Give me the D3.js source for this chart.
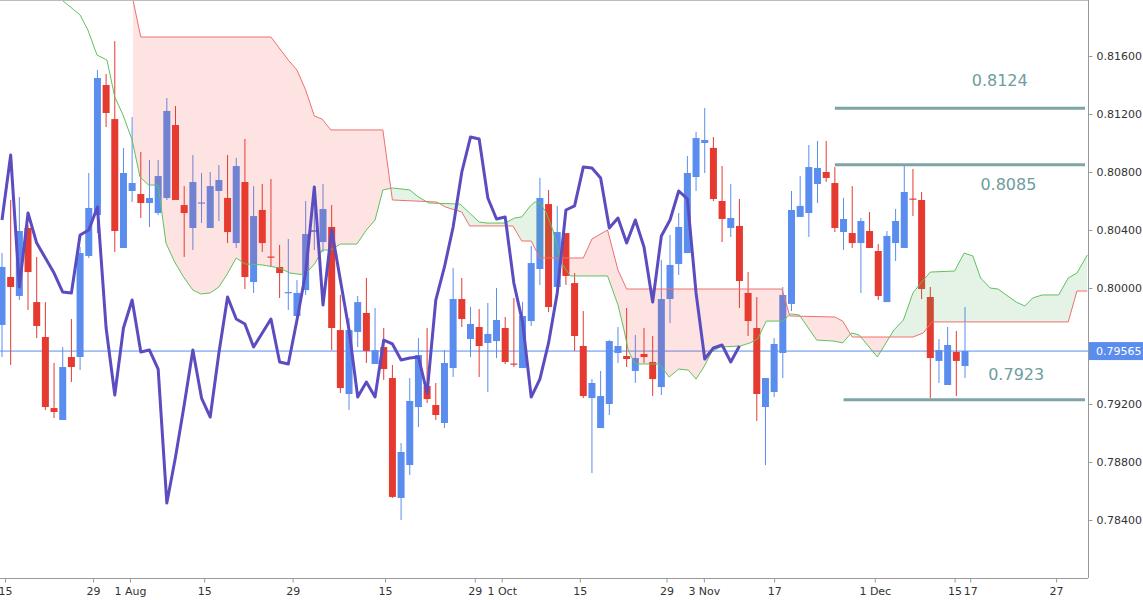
<!DOCTYPE html>
<html>
<head>
<meta charset="utf-8">
<script src="https://cdn.jsdelivr.net/npm/d3@7"></script>
<style>
  body { margin: 0; background: #fff; }
  svg text { font-family: "DejaVu Sans", sans-serif; }
</style>
</head>
<body>
<div id="chart"></div>
<script>
const W = 1143, H = 600
const PLOT = { LEFT: 0, RIGHT: 1088, TOP: 0, BOTTOM: 578 }

// daily candles [open, high, low, close]
const candles = [
  [0.79745,0.80241,0.79524,0.80145],[0.80076,0.80607,0.79469,0.80007],[0.79945,0.80628,0.79917,0.80393],
  [0.80414,0.80435,0.79848,0.80110],[0.79903,0.80214,0.79655,0.79738],[0.79662,0.79903,0.79159,0.79179],
  [0.79172,0.79483,0.79103,0.79145],[0.79090,0.79593,0.79090,0.79455],[0.79524,0.79786,0.79352,0.79455],
  [0.79524,0.80283,0.79434,0.80241],[0.80221,0.80793,0.80207,0.80552],[0.80503,0.81503,0.80379,0.81448],
  [0.81400,0.81476,0.81110,0.81207],[0.81165,0.81703,0.80248,0.80393],[0.80276,0.80966,0.80276,0.80793],
  [0.80669,0.81179,0.80593,0.80724],[0.80648,0.80938,0.80483,0.80586],[0.80586,0.80883,0.80421,0.80621],
  [0.80517,0.80883,0.80503,0.80772],[0.80621,0.81310,0.80607,0.81221],[0.81124,0.81255,0.80607,0.80607],
  [0.80572,0.80703,0.80214,0.80517],[0.80414,0.80917,0.80262,0.80731],[0.80586,0.80793,0.80448,0.80590],
  [0.80414,0.80800,0.80414,0.80703],[0.80669,0.80848,0.80462,0.80745],[0.80621,0.80917,0.80310,0.80386],
  [0.80310,0.80897,0.80276,0.80841],[0.80731,0.81028,0.79993,0.80076],[0.80041,0.80703,0.79966,0.80496],
  [0.80538,0.80717,0.80248,0.80310],[0.80217,0.80752,0.80145,0.80214],[0.80145,0.80297,0.79931,0.80103],
  [0.79969,0.80338,0.79848,0.79972],[0.79807,0.80055,0.79807,0.79966],[0.79986,0.80600,0.79952,0.80372],
  [0.80386,0.80593,0.80262,0.80400],[0.80317,0.80717,0.80248,0.80545],[0.80421,0.80572,0.79572,0.79724],
  [0.79710,0.79952,0.79276,0.79310],[0.79269,0.79793,0.79159,0.79710],[0.79697,0.79945,0.79593,0.79903],
  [0.79828,0.80069,0.79483,0.79566],[0.79476,0.79862,0.79476,0.79572],[0.79593,0.79724,0.79366,0.79441],
  [0.79379,0.79469,0.78552,0.78559],[0.78552,0.78931,0.78400,0.78869],[0.78779,0.79379,0.78710,0.79221],
  [0.79179,0.79655,0.79041,0.79538],[0.79324,0.79724,0.79207,0.79234],[0.79193,0.79345,0.79090,0.79124],
  [0.79069,0.79572,0.79034,0.79483],[0.79448,0.80138,0.79386,0.79924],[0.79924,0.80069,0.79731,0.79786],
  [0.79648,0.79869,0.79524,0.79752],[0.79731,0.79855,0.79386,0.79600],[0.79621,0.79897,0.79283,0.79683],
  [0.79634,0.80000,0.79517,0.79779],[0.79724,0.79800,0.79476,0.79490],[0.79479,0.79931,0.79455,0.79476],
  [0.79448,0.79903,0.79448,0.79807],[0.79772,0.80290,0.79738,0.80172],[0.80131,0.80759,0.80021,0.80621],
  [0.80579,0.80676,0.79834,0.79869],[0.80007,0.80566,0.80007,0.80386],[0.80379,0.80379,0.80021,0.80083],
  [0.80034,0.80103,0.79566,0.79669],[0.79600,0.79841,0.79241,0.79255],[0.79241,0.79372,0.78724,0.79345],
  [0.79034,0.79428,0.79034,0.79255],[0.79200,0.79641,0.79124,0.79634],[0.79552,0.79731,0.79483,0.79600],
  [0.79531,0.79862,0.79455,0.79510],[0.79428,0.79676,0.79345,0.79517],[0.79545,0.79724,0.79483,0.79524],
  [0.79490,0.79669,0.79255,0.79372],[0.79317,0.80193,0.79262,0.79924],[0.79924,0.80366,0.79759,0.80159],
  [0.80166,0.80517,0.80090,0.80421],[0.80241,0.80910,0.80241,0.80793],[0.80765,0.81076,0.80669,0.81034],
  [0.81000,0.81241,0.80793,0.81021],[0.80966,0.81041,0.80600,0.80614],[0.80600,0.80841,0.80317,0.80476],
  [0.80414,0.80717,0.80352,0.80483],[0.80428,0.80614,0.79862,0.80048],[0.79966,0.80110,0.79669,0.79772],
  [0.79724,0.79938,0.79083,0.79269],[0.79179,0.79379,0.78779,0.79379],[0.79283,0.79655,0.79248,0.79614],
  [0.79552,0.80007,0.79379,0.79952],[0.79890,0.80669,0.79841,0.80538],[0.80490,0.80772,0.80490,0.80566],
  [0.80517,0.80986,0.80352,0.80834],[0.80717,0.81014,0.80586,0.80828],[0.80800,0.81014,0.80731,0.80759],
  [0.80724,0.80834,0.80386,0.80414],[0.80386,0.80621,0.80262,0.80476],[0.80379,0.80703,0.80276,0.80310],
  [0.80310,0.80483,0.79966,0.80462],[0.80393,0.80524,0.80276,0.80276],[0.80255,0.80303,0.79917,0.79945],
  [0.79903,0.80393,0.79903,0.80359],[0.80310,0.80545,0.80186,0.80462],[0.80276,0.80841,0.80276,0.80662],
  [0.80617,0.80821,0.80496,0.80614],[0.80607,0.80662,0.79924,0.79993],[0.79938,0.80007,0.79241,0.79517],
  [0.79497,0.79648,0.79345,0.79572],[0.79331,0.79731,0.79331,0.79607],[0.79559,0.79703,0.79255,0.79497],
  [0.79462,0.79869,0.79379,0.79565]
]

// lagging line, one value per candle from the first
const lagging = [
  0.80469,0.80917,0.80007,0.80517,0.80310,0.80207,0.80103,0.79972,0.79966,0.80365,
  0.80400,0.80559,0.79724,0.79262,0.79724,0.79917,0.79559,0.79572,0.79441,0.78517,
  0.78834,0.79193,0.79572,0.79241,0.79110,0.79552,0.79938,0.79786,0.79752,0.79593,
  0.79690,0.79786,0.79490,0.79476,0.79779,0.80103,0.80697,0.79883,0.80400,0.80055,
  0.79710,0.79248,0.79352,0.79248,0.79641,0.79614,0.79503,0.79517,0.79524,0.79276,
  0.79917,0.80145,0.80421,0.80800,0.81041,0.81028,0.80621,0.80476,0.80490,0.80034,
  0.79765,0.79248,0.79372,0.79621,0.79966,0.80538,0.80566,0.80834,0.80828,0.80759,
  0.80414,0.80483,0.80310,0.80469,0.80283,0.79903,0.80359,0.80469,0.80669,0.80614,
  0.79966,0.79510,0.79586,0.79607,0.79490,0.79600
]

// cloud edges as [candle index, price] turning points
const spanA = [
  [6.9,0.81986],[9.0,0.81883],[9.9,0.81779],[10.95,0.81607],[12.1,0.81572],[13.0,0.81317],[13.95,0.81193],
  [15.0,0.81021],[15.9,0.80766],[16.9,0.80710],[18.0,0.80710],[18.9,0.80310],[19.9,0.80179],[21.0,0.80069],
  [22.0,0.79986],[22.9,0.79959],[24.0,0.79966],[25.0,0.80007],[25.9,0.80090],[27.0,0.80207],[28.0,0.80166],
  [30.0,0.80159],[32.0,0.80138],[33.2,0.80103],[34.9,0.80090],[36.1,0.80172],[36.9,0.80262],[37.9,0.80262],
  [39.0,0.80303],[40.9,0.80303],[42.0,0.80400],[43.0,0.80469],[43.9,0.80676],[45.0,0.80690],[47.0,0.80676],
  [48.0,0.80628],[49.2,0.80586],[52.8,0.80579],[53.9,0.80517],[55.0,0.80455],[55.9,0.80448],[58.0,0.80448],
  [59.1,0.80483],[59.9,0.80490],[60.9,0.80566],[61.4,0.80593],[62.0,0.80586],[62.7,0.80524],[63.5,0.80400],
  [64.5,0.80172],[65.5,0.80083],[69.8,0.80083],[71.0,0.79883],[71.7,0.79710],[72.2,0.79566],[73.0,0.79476],
  [75.8,0.79476],[76.9,0.79386],[78.0,0.79441],[79.1,0.79434],[80.0,0.79372],[80.9,0.79455],[81.8,0.79559],
  [82.8,0.79593],[85.1,0.79600],[86.2,0.79621],[87.1,0.79648],[88.1,0.79772],[90.0,0.79772],[90.9,0.79821],
  [91.9,0.79814],[93.9,0.79641],[95.9,0.79634],[96.9,0.79621],[97.9,0.79690],[98.8,0.79676],[100.9,0.79524],
  [102.8,0.79710],[103.9,0.79779],[105.0,0.79966],[106.0,0.80041],[107.0,0.80110],[109.8,0.80117],
  [110.9,0.80241],[111.9,0.80221],[112.8,0.80069],[113.9,0.80000],[114.8,0.79993],[116.9,0.79903],
  [117.9,0.79876],[118.8,0.79931],[119.9,0.79952],[121.8,0.79952],[122.9,0.80069],[123.9,0.80103],[125.1,0.80228]
]
const spanB = [
  [15.1,0.81986],[16.0,0.81731],[31.0,0.81731],[33.0,0.81572],[34.0,0.81503],[35.0,0.81366],[36.0,0.81186],
  [36.9,0.81165],[37.9,0.81090],[43.9,0.81090],[45.0,0.80607],[50.1,0.80593],[51.1,0.80559],[53.0,0.80524],
  [53.9,0.80428],[58.9,0.80428],[59.9,0.80324],[61.0,0.80324],[62.0,0.80207],[67.0,0.80207],[68.0,0.80338],
  [69.8,0.80400],[71.0,0.80124],[72.0,0.79993],[89.9,0.79993],[90.8,0.79807],[96.0,0.79800],[96.9,0.79772],
  [98.0,0.79662],[105.0,0.79662],[106.2,0.79690],[107.2,0.79766],[122.9,0.79766],[123.9,0.79979],[125.1,0.79979]
]

const priceTicks = [0.784, 0.788, 0.792, 0.800, 0.804, 0.808, 0.812, 0.816]
const dateTicks = [0.35, 10.5, 14.75, 23.3, 33.5, 44.15, 54.5, 57.6, 66.6, 76.6, 80.9, 89, 100.6, 109.8, 111.6, 121.5]
const dateLabels = ['15','29','1 Aug','15','29','15','29','1 Oct','15','29','3 Nov','17','1 Dec','15','17','27']

const levels = [0.8124, 0.8085, 0.7923]
const levelStart = [96, 96, 97]
const levelText = ['0.8124', '0.8085', '0.7923']
const levelTextIdx = [115.0, 116.0, 116.9]
const levelTextPrice = [0.81393, 0.80676, 0.79366]
const lastPrice = 0.79565

const up = '#5b8def', down = '#e53a30'

const svg = d3.select('#chart').append('svg').attr('width', W).attr('height', H)

const x = d3.scaleLinear().domain([0, candles.length - 1]).range([2, 965])
const y = d3.scaleLinear().domain([0.784, 0.816]).range([520, 56])

svg.append('clipPath').attr('id', 'plot')
  .append('rect').attr('x', PLOT.LEFT).attr('y', PLOT.TOP)
  .attr('width', PLOT.RIGHT - PLOT.LEFT).attr('height', PLOT.BOTTOM - PLOT.TOP)

const g = svg.append('g').attr('clip-path', 'url(#plot)')

// last price line
g.append('line').attr('x1', 0).attr('x2', PLOT.RIGHT)
  .attr('y1', y(lastPrice)).attr('y2', y(lastPrice))
  .attr('stroke', up).attr('stroke-width', 1)

// candles
const cg = g.append('g')
candles.forEach((d, i) => {
  const [o, h, l, c] = d
  const col = c >= o ? up : down
  cg.append('line').attr('x1', x(i)).attr('x2', x(i))
    .attr('y1', y(h)).attr('y2', y(l)).attr('stroke', col).attr('stroke-width', 1)
  const top = y(Math.max(o, c)), bot = y(Math.min(o, c))
  cg.append('rect').attr('x', x(i) - 3.5).attr('width', 7)
    .attr('y', top).attr('height', Math.max(1.2, bot - top)).attr('fill', col)
})

// cloud
const interp = pts => t => {
  if (t <= pts[0][0]) return pts[0][1]
  for (let k = 1; k < pts.length; k++) {
    if (t <= pts[k][0]) {
      const [x0, y0] = pts[k - 1], [x1, y1] = pts[k]
      return y0 + (y1 - y0) * (t - x0) / (x1 - x0)
    }
  }
  return pts[pts.length - 1][1]
}
const fA = interp(spanA), fB = interp(spanB)
const start = Math.max(spanA[0][0], spanB[0][0]), end = 125.1
const grid = d3.range(start, end, 0.1).concat([end])
const between = d3.area().x(t => x(t)).y0(t => y(fA(t))).y1(t => y(fB(t)))

svg.append('clipPath').attr('id', 'aboveB')
  .append('path').attr('d', d3.area().x(t => x(t)).y0(0).y1(t => y(fB(t)))(grid))
svg.append('clipPath').attr('id', 'belowB')
  .append('path').attr('d', d3.area().x(t => x(t)).y0(H).y1(t => y(fB(t)))(grid))

g.append('g').attr('clip-path', 'url(#aboveB)').append('path')
  .attr('d', between(grid)).attr('fill', 'rgba(76,175,80,0.15)')
g.append('g').attr('clip-path', 'url(#belowB)').append('path')
  .attr('d', between(grid)).attr('fill', 'rgba(244,67,54,0.15)')

const edge = d3.line().x(d => x(d[0])).y(d => y(d[1]))
g.append('path').attr('d', edge(spanA)).attr('fill', 'none').attr('stroke', '#5fc25f').attr('stroke-width', 1)
g.append('path').attr('d', edge(spanB)).attr('fill', 'none').attr('stroke', '#f07070').attr('stroke-width', 1)

// lagging line
g.append('path')
  .attr('d', d3.line().x((d, i) => x(i)).y(d => y(d))(lagging))
  .attr('fill', 'none').attr('stroke', '#5b4cc0').attr('stroke-width', 3)
  .attr('stroke-linejoin', 'round')

// levels
levels.forEach((v, i) => {
  g.append('line').attr('x1', x(levelStart[i])).attr('x2', PLOT.RIGHT - 3)
    .attr('y1', y(v)).attr('y2', y(v)).attr('stroke', '#7fa4a6').attr('stroke-width', 3)
  g.append('text').attr('x', x(levelTextIdx[i])).attr('y', y(levelTextPrice[i]))
    .attr('text-anchor', 'middle').attr('font-size', 16).attr('fill', '#6e9c9f')
    .text(levelText[i])
})

// frame
svg.append('line').attr('x1', 0).attr('x2', PLOT.RIGHT).attr('y1', 0.5).attr('y2', 0.5).attr('stroke', '#bbb')
svg.append('line').attr('x1', PLOT.RIGHT + 0.5).attr('x2', PLOT.RIGHT + 0.5).attr('y1', 0).attr('y2', PLOT.BOTTOM).attr('stroke', '#999')
svg.append('line').attr('x1', 0).attr('x2', PLOT.RIGHT).attr('y1', PLOT.BOTTOM + 0.5).attr('y2', PLOT.BOTTOM + 0.5).attr('stroke', '#999')

// price axis
const yAxis = svg.append('g').attr('transform', `translate(${PLOT.RIGHT + 0.5},0)`)
  .call(d3.axisRight(y).tickValues(priceTicks).tickFormat(d3.format('.5f')).tickSize(4).tickSizeOuter(0))
yAxis.select('.domain').remove()
yAxis.selectAll('line').attr('stroke', '#999')
yAxis.selectAll('text').attr('font-size', 11).attr('fill', '#333').attr('x', 8)

// date axis
const xAxis = svg.append('g').attr('transform', `translate(0,${PLOT.BOTTOM + 0.5})`)
  .call(d3.axisBottom(x).tickValues(dateTicks).tickFormat((d, i) => dateLabels[i]).tickSize(4).tickSizeOuter(0))
xAxis.select('.domain').remove()
xAxis.selectAll('line').attr('stroke', '#999')
xAxis.selectAll('text').attr('font-size', 11).attr('fill', '#333').attr('dy', '0.9em')
  .attr('font-family', '"DejaVu Sans Condensed", sans-serif')

// last price tag
const tag = svg.append('g').attr('transform', `translate(${PLOT.RIGHT + 1},${y(lastPrice)})`)
tag.append('rect').attr('x', 0).attr('y', -9).attr('width', W - PLOT.RIGHT).attr('height', 18).attr('fill', up)
tag.append('text').attr('x', 7).attr('y', 4).attr('font-size', 11).attr('fill', '#fff').text(d3.format('.5f')(lastPrice))
</script>
</body>
</html>
